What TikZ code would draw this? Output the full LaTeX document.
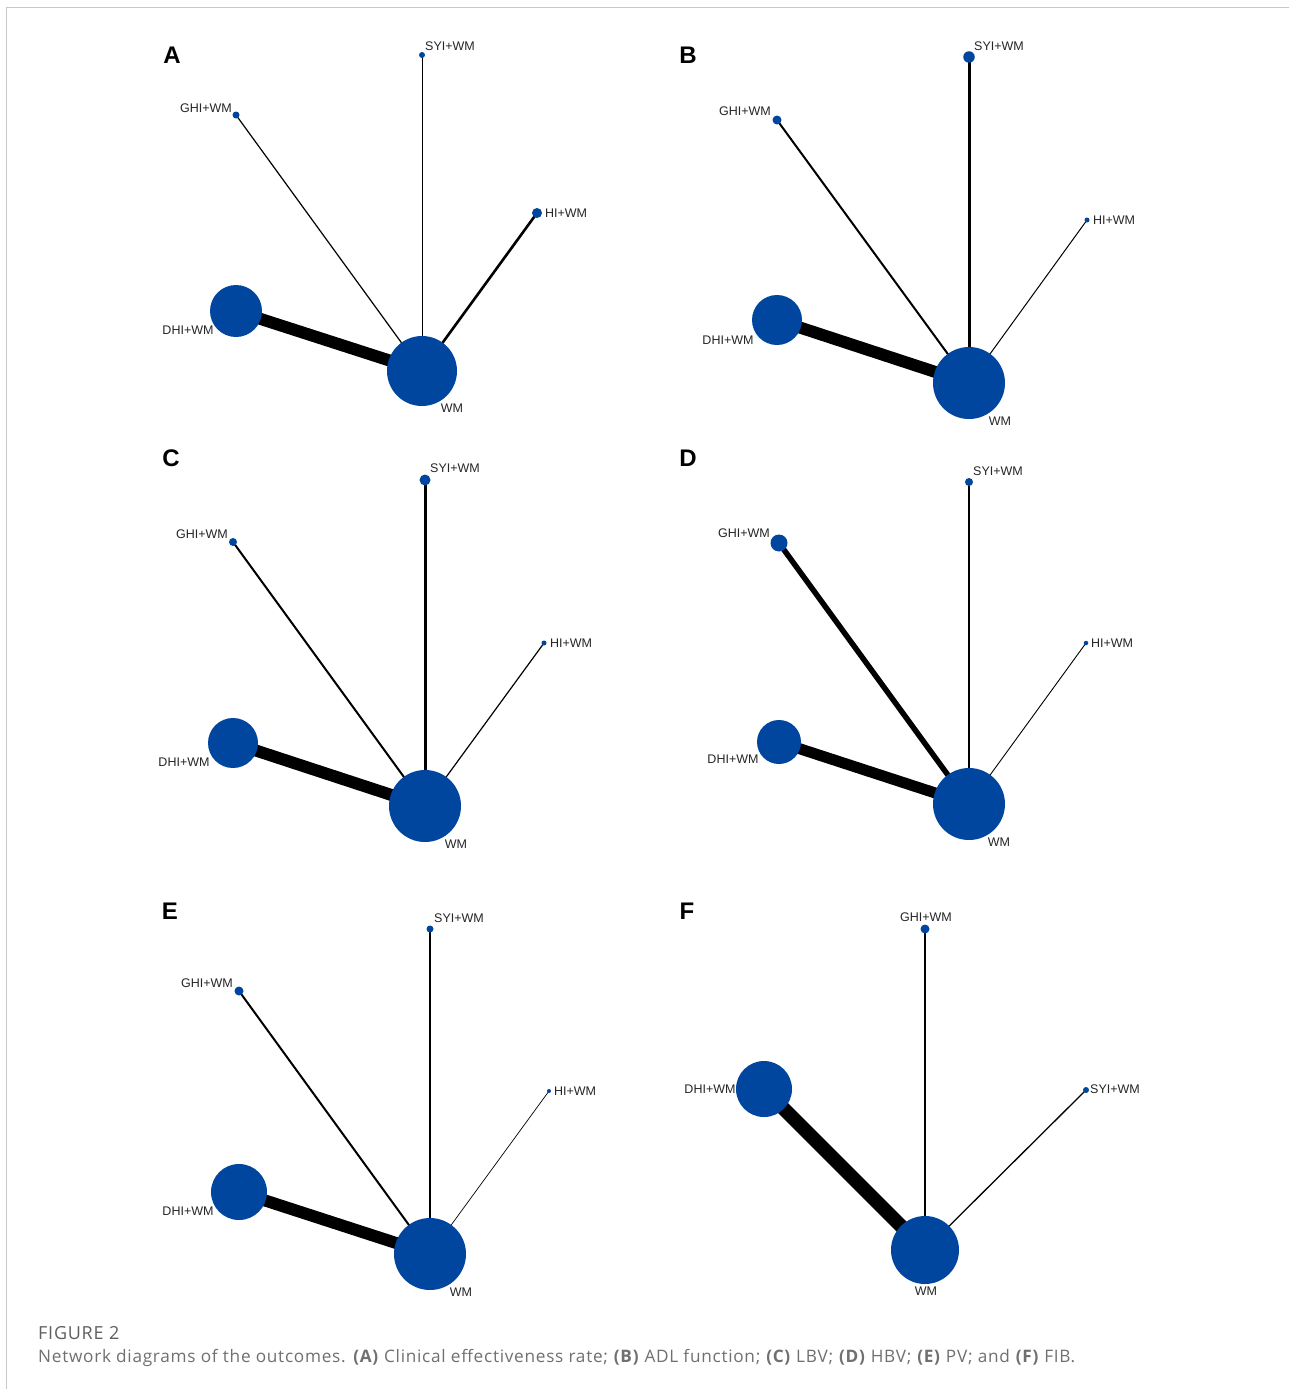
\documentclass[tikz,border=0pt]{standalone}
\usepackage{fontspec}
\setmainfont{Liberation Sans}
\newfontfamily\capfont[LetterSpace=4.2]{Open Sans}
\definecolor{nodeblue}{RGB}{0,69,158}
\definecolor{framegray}{RGB}{200,200,200}
\definecolor{capgray}{RGB}{112,112,112}
\definecolor{capdark}{RGB}{95,95,95}
\begin{document}
\begin{tikzpicture}[x=1pt,y=-1pt,
  dot/.style={circle,fill=nodeblue,draw=none,inner sep=0pt,minimum size=#1},
  lbl/.style={font=\fontsize{12.5}{14}\selectfont,inner sep=0pt,text=black!85},
  panel/.style={font=\fontsize{24}{26}\selectfont\bfseries,inner sep=0pt},
  edge/.style={line width=#1,draw=black}]
\useasboundingbox (0,0) rectangle (1289,1389);
\fill[white] (0,0) rectangle (1289,1389);
\draw[framegray,line width=1.2pt] (6.5,1389) -- (6.5,7.5) -- (1289,7.5);

% ---------- Panel A ----------
\node[panel] (pA) at (172,55) {A};
\coordinate (aSYI) at (422,55);
\coordinate (aGHI) at (236,115);
\coordinate (aHI)  at (537,213);
\coordinate (aDHI) at (236,311);
\coordinate (aWM)  at (422,371);
\draw[edge=12pt] (aDHI) -- (aWM);
\draw[edge=1.2pt] (aGHI) -- (aWM);
\draw[edge=1pt] (aSYI) -- (aWM);
\draw[edge=2.6pt] (aHI) -- (aWM);
\node[dot=6pt]  (naSYI) at (aSYI) {};
\node[dot=7pt]  (naGHI) at (aGHI) {};
\node[dot=10pt] (naHI)  at (aHI) {};
\node[dot=52pt] (naDHI) at (aDHI) {};
\node[dot=70pt] (naWM)  at (aWM) {};
\node[lbl] (laSYI) at (450,46) {SYI+WM};
\node[lbl] (laGHI) at (206,108) {GHI+WM};
\node[lbl] (laHI)  at (566,213) {HI+WM};
\node[lbl] (laDHI) at (188,330) {DHI+WM};
\node[lbl] (laWM)  at (452,408) {WM};

% ---------- Panel B ----------
\node[panel] (pB) at (688,55) {B};
\coordinate (bSYI) at (969,57);
\coordinate (bGHI) at (777,120);
\coordinate (bHI)  at (1087,220);
\coordinate (bDHI) at (777,320);
\coordinate (bWM)  at (969,383);
\draw[edge=12pt] (bDHI) -- (bWM);
\draw[edge=2pt] (bGHI) -- (bWM);
\draw[edge=3pt] (bSYI) -- (bWM);
\draw[edge=1pt] (bHI) -- (bWM);
\node[dot=11.5pt] (nbSYI) at (bSYI) {};
\node[dot=9pt]  (nbGHI) at (bGHI) {};
\node[dot=5pt]  (nbHI)  at (bHI) {};
\node[dot=50pt] (nbDHI) at (bDHI) {};
\node[dot=72pt] (nbWM)  at (bWM) {};
\node[lbl] (lbSYI) at (999,46) {SYI+WM};
\node[lbl] (lbGHI) at (745,111) {GHI+WM};
\node[lbl] (lbHI)  at (1114,220) {HI+WM};
\node[lbl] (lbDHI) at (728,340) {DHI+WM};
\node[lbl] (lbWM)  at (1000,421) {WM};

% ---------- Panel C ----------
\node[panel] (pC) at (171,458) {C};
\coordinate (cSYI) at (425,480);
\coordinate (cGHI) at (233,542);
\coordinate (cHI)  at (544,643);
\coordinate (cDHI) at (233,743);
\coordinate (cWM)  at (425,806);
\draw[edge=12pt] (cDHI) -- (cWM);
\draw[edge=2pt] (cGHI) -- (cWM);
\draw[edge=3pt] (cSYI) -- (cWM);
\draw[edge=1.2pt] (cHI) -- (cWM);
\node[dot=11pt] (ncSYI) at (cSYI) {};
\node[dot=8pt]  (ncGHI) at (cGHI) {};
\node[dot=5pt]  (ncHI)  at (cHI) {};
\node[dot=50pt] (ncDHI) at (cDHI) {};
\node[dot=72pt] (ncWM)  at (cWM) {};
\node[lbl] (lcSYI) at (455,468) {SYI+WM};
\node[lbl] (lcGHI) at (202,534) {GHI+WM};
\node[lbl] (lcHI)  at (571,643) {HI+WM};
\node[lbl] (lcDHI) at (184,762) {DHI+WM};
\node[lbl] (lcWM)  at (456,844) {WM};

% ---------- Panel D ----------
\node[panel] (pD) at (688,458) {D};
\coordinate (dSYI) at (969,482);
\coordinate (dGHI) at (779,543);
\coordinate (dHI)  at (1086,643);
\coordinate (dDHI) at (779,742);
\coordinate (dWM)  at (969,804);
\draw[edge=11pt] (dDHI) -- (dWM);
\draw[edge=5.5pt] (dGHI) -- (dWM);
\draw[edge=2pt] (dSYI) -- (dWM);
\draw[edge=0.9pt] (dHI) -- (dWM);
\node[dot=8pt]  (ndSYI) at (dSYI) {};
\node[dot=17pt] (ndGHI) at (dGHI) {};
\node[dot=4.5pt](ndHI)  at (dHI) {};
\node[dot=44pt] (ndDHI) at (dDHI) {};
\node[dot=72pt] (ndWM)  at (dWM) {};
\node[lbl] (ldSYI) at (998,471) {SYI+WM};
\node[lbl] (ldGHI) at (744,533) {GHI+WM};
\node[lbl] (ldHI)  at (1112,643) {HI+WM};
\node[lbl] (ldDHI) at (733,759) {DHI+WM};
\node[lbl] (ldWM)  at (999,842) {WM};

% ---------- Panel E ----------
\node[panel] (pE) at (170,911) {E};
\coordinate (eSYI) at (430,929);
\coordinate (eGHI) at (239,991);
\coordinate (eHI)  at (549,1091);
\coordinate (eDHI) at (239,1192);
\coordinate (eWM)  at (430,1254);
\draw[edge=12pt] (eDHI) -- (eWM);
\draw[edge=2pt] (eGHI) -- (eWM);
\draw[edge=1.5pt] (eSYI) -- (eWM);
\draw[edge=0.7pt] (eHI) -- (eWM);
\node[dot=7pt]  (neSYI) at (eSYI) {};
\node[dot=9pt]  (neGHI) at (eGHI) {};
\node[dot=4pt]  (neHI)  at (eHI) {};
\node[dot=56pt] (neDHI) at (eDHI) {};
\node[dot=72pt] (neWM)  at (eWM) {};
\node[lbl] (leSYI) at (459,918) {SYI+WM};
\node[lbl] (leGHI) at (207,983) {GHI+WM};
\node[lbl] (leHI)  at (575,1091) {HI+WM};
\node[lbl] (leDHI) at (188,1211) {DHI+WM};
\node[lbl] (leWM)  at (461,1292) {WM};

% ---------- Panel F ----------
\node[panel] (pF) at (687,911) {F};
\coordinate (fGHI) at (925,929);
\coordinate (fSYI) at (1086,1090);
\coordinate (fDHI) at (764,1089);
\coordinate (fWM)  at (925,1250);
\draw[edge=14pt] (fDHI) -- (fWM);
\draw[edge=2pt] (fGHI) -- (fWM);
\draw[edge=1.3pt] (fSYI) -- (fWM);
\node[dot=9pt]  (nfGHI) at (fGHI) {};
\node[dot=6pt]  (nfSYI) at (fSYI) {};
\node[dot=56pt] (nfDHI) at (fDHI) {};
\node[dot=68pt] (nfWM)  at (fWM) {};
\node[lbl] (lfGHI) at (926,917) {GHI+WM};
\node[lbl] (lfSYI) at (1115,1089) {SYI+WM};
\node[lbl] (lfDHI) at (710,1089) {DHI+WM};
\node[lbl] (lfWM)  at (926,1291) {WM};

% ---------- Caption ----------
\node[anchor=west,inner sep=0pt,text=capdark,font=\capfont\fontsize{18}{19}\selectfont] (cap1) at (38,1333) {FIGURE 2};
\node[anchor=west,inner sep=0pt,text=capgray,font=\capfont\fontsize{17.2}{19}\selectfont] (cap2) at (38,1358)
 {Network diagrams of the outcomes. \textbf{(A)} Clinical effectiveness rate; \textbf{(B)} ADL function; \textbf{(C)} LBV; \textbf{(D)} HBV; \textbf{(E)} PV; and \textbf{(F)} FIB.};
\end{tikzpicture}
\end{document}
